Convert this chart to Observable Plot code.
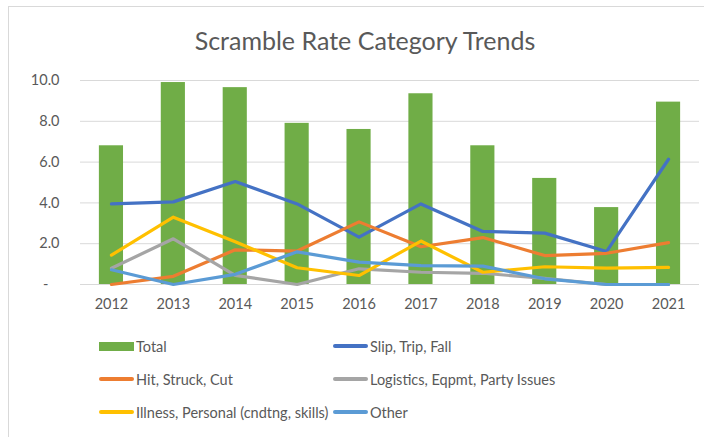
<!DOCTYPE html>
<html>
<head>
<meta charset="utf-8">
<script src="https://cdn.jsdelivr.net/npm/d3@7"></script>
<script src="https://cdn.jsdelivr.net/npm/@observablehq/plot@0.6"></script>
<style>
  body { margin: 0; background: #fff; font-family: Lato, "Open Sans", sans-serif; }
  #wrap { position: relative; width: 704px; height: 437px; overflow: hidden; }
  #frame { position: absolute; left: 8px; top: 6px; width: 720px; height: 460px; border: 1px solid #d9d9d9; box-sizing: border-box; }
  #title { position: absolute; left: 0; top: 25px; width: 730px; text-align: center; font-size: 25px; color: #595959; font-family: Lato, sans-serif; }
  #chart { position: absolute; left: 0; top: 66px; }
  .leg { position: absolute; font-size: 14.5px; color: #595959; display: flex; align-items: center; white-space: nowrap; }
  .sw { display: inline-block; width: 35px; margin-right: 2px; }
</style>
</head>
<body>
<div id="wrap">
  <div id="frame"></div>
  <div id="title">Scramble Rate Category Trends</div>
  <div id="chart"></div>
  <div id="legend"></div>
</div>
<script>
const years = ["2012","2013","2014","2015","2016","2017","2018","2019","2020","2021"];
const total     = [6.8, 9.9, 9.65, 7.9, 7.6, 9.35, 6.8, 5.2, 3.77, 8.94];
const slip      = [3.95, 4.05, 5.05, 3.95, 2.32, 3.95, 2.6, 2.52, 1.62, 6.14];
const hit       = [0, 0.4, 1.7, 1.64, 3.07, 1.85, 2.3, 1.42, 1.53, 2.05];
const logistics = [0.8, 2.24, 0.45, 0, 0.77, 0.6, 0.55, 0.3, 0, 0];
const illness   = [1.44, 3.3, 2.1, 0.82, 0.44, 2.13, 0.6, 0.87, 0.8, 0.84];
const other     = [0.72, 0, 0.5, 1.6, 1.1, 0.93, 0.9, 0.28, 0, 0];
const yTicks = [0, 2, 4, 6, 8, 10];

const lineSeries = [
  {name: "Slip, Trip, Fall", values: slip, color: "#4472C4"},
  {name: "Hit, Struck, Cut", values: hit, color: "#ED7D31"},
  {name: "Logistics, Eqpmt, Party Issues", values: logistics, color: "#A5A5A5"},
  {name: "Illness, Personal (cndtng, skills)", values: illness, color: "#FFC000"},
  {name: "Other", values: other, color: "#5B9BD5"}
];
const totalColor = "#70AD47";

const barData = years.map((y, i) => ({year: y, value: total[i]}));
const lineMarks = lineSeries.map(s =>
  Plot.line(years.map((y, i) => ({year: y, value: s.values[i]})), {
    x: "year", y: "value", stroke: s.color, strokeWidth: 3.2,
    strokeLinecap: "round", strokeLinejoin: "round"
  })
);

const plot = Plot.plot({
  width: 704,
  height: 254,
  marginTop: 14,
  marginBottom: 36,
  marginLeft: 80,
  marginRight: 5,
  style: {fontFamily: "Lato, sans-serif", fontSize: "14.5px", color: "#595959", background: "transparent"},
  x: {domain: years, paddingInner: 0.61, paddingOuter: 0.305, round: false, label: null, tickSize: 0, tickPadding: 14},
  y: {domain: [0, 10], ticks: yTicks, label: null, tickSize: 0, tickPadding: 21,
      tickFormat: d => d === 0 ? "-\u00a0\u00a0\u00a0" : d.toFixed(1)},
  marks: [
    Plot.ruleY(yTicks, {stroke: "#d9d9d9", strokeWidth: 1}),
    Plot.barY(barData, {x: "year", y: "value", fill: totalColor}),
    ...lineMarks
  ]
});
document.getElementById("chart").appendChild(plot);

// Legend
const legend = document.getElementById("legend");
const items = [{name: "Total", color: totalColor, bar: true}, ...lineSeries];
const cols = [99, 333];
const rows = [346, 379, 412];
items.forEach((it, i) => {
  const d = document.createElement("div");
  d.className = "leg";
  d.style.left = cols[i % 2] + "px";
  d.style.top = (rows[Math.floor(i / 2)] - 10) + "px";
  d.style.height = "20px";
  const sw = document.createElement("span");
  sw.className = "sw";
  sw.style.background = it.color;
  sw.style.height = it.bar ? "9px" : "4px";
  sw.style.borderRadius = it.bar ? "0" : "2px";
  d.appendChild(sw);
  const t = document.createElement("span");
  t.textContent = it.name;
  d.appendChild(t);
  legend.appendChild(d);
});
</script>
</body>
</html>
